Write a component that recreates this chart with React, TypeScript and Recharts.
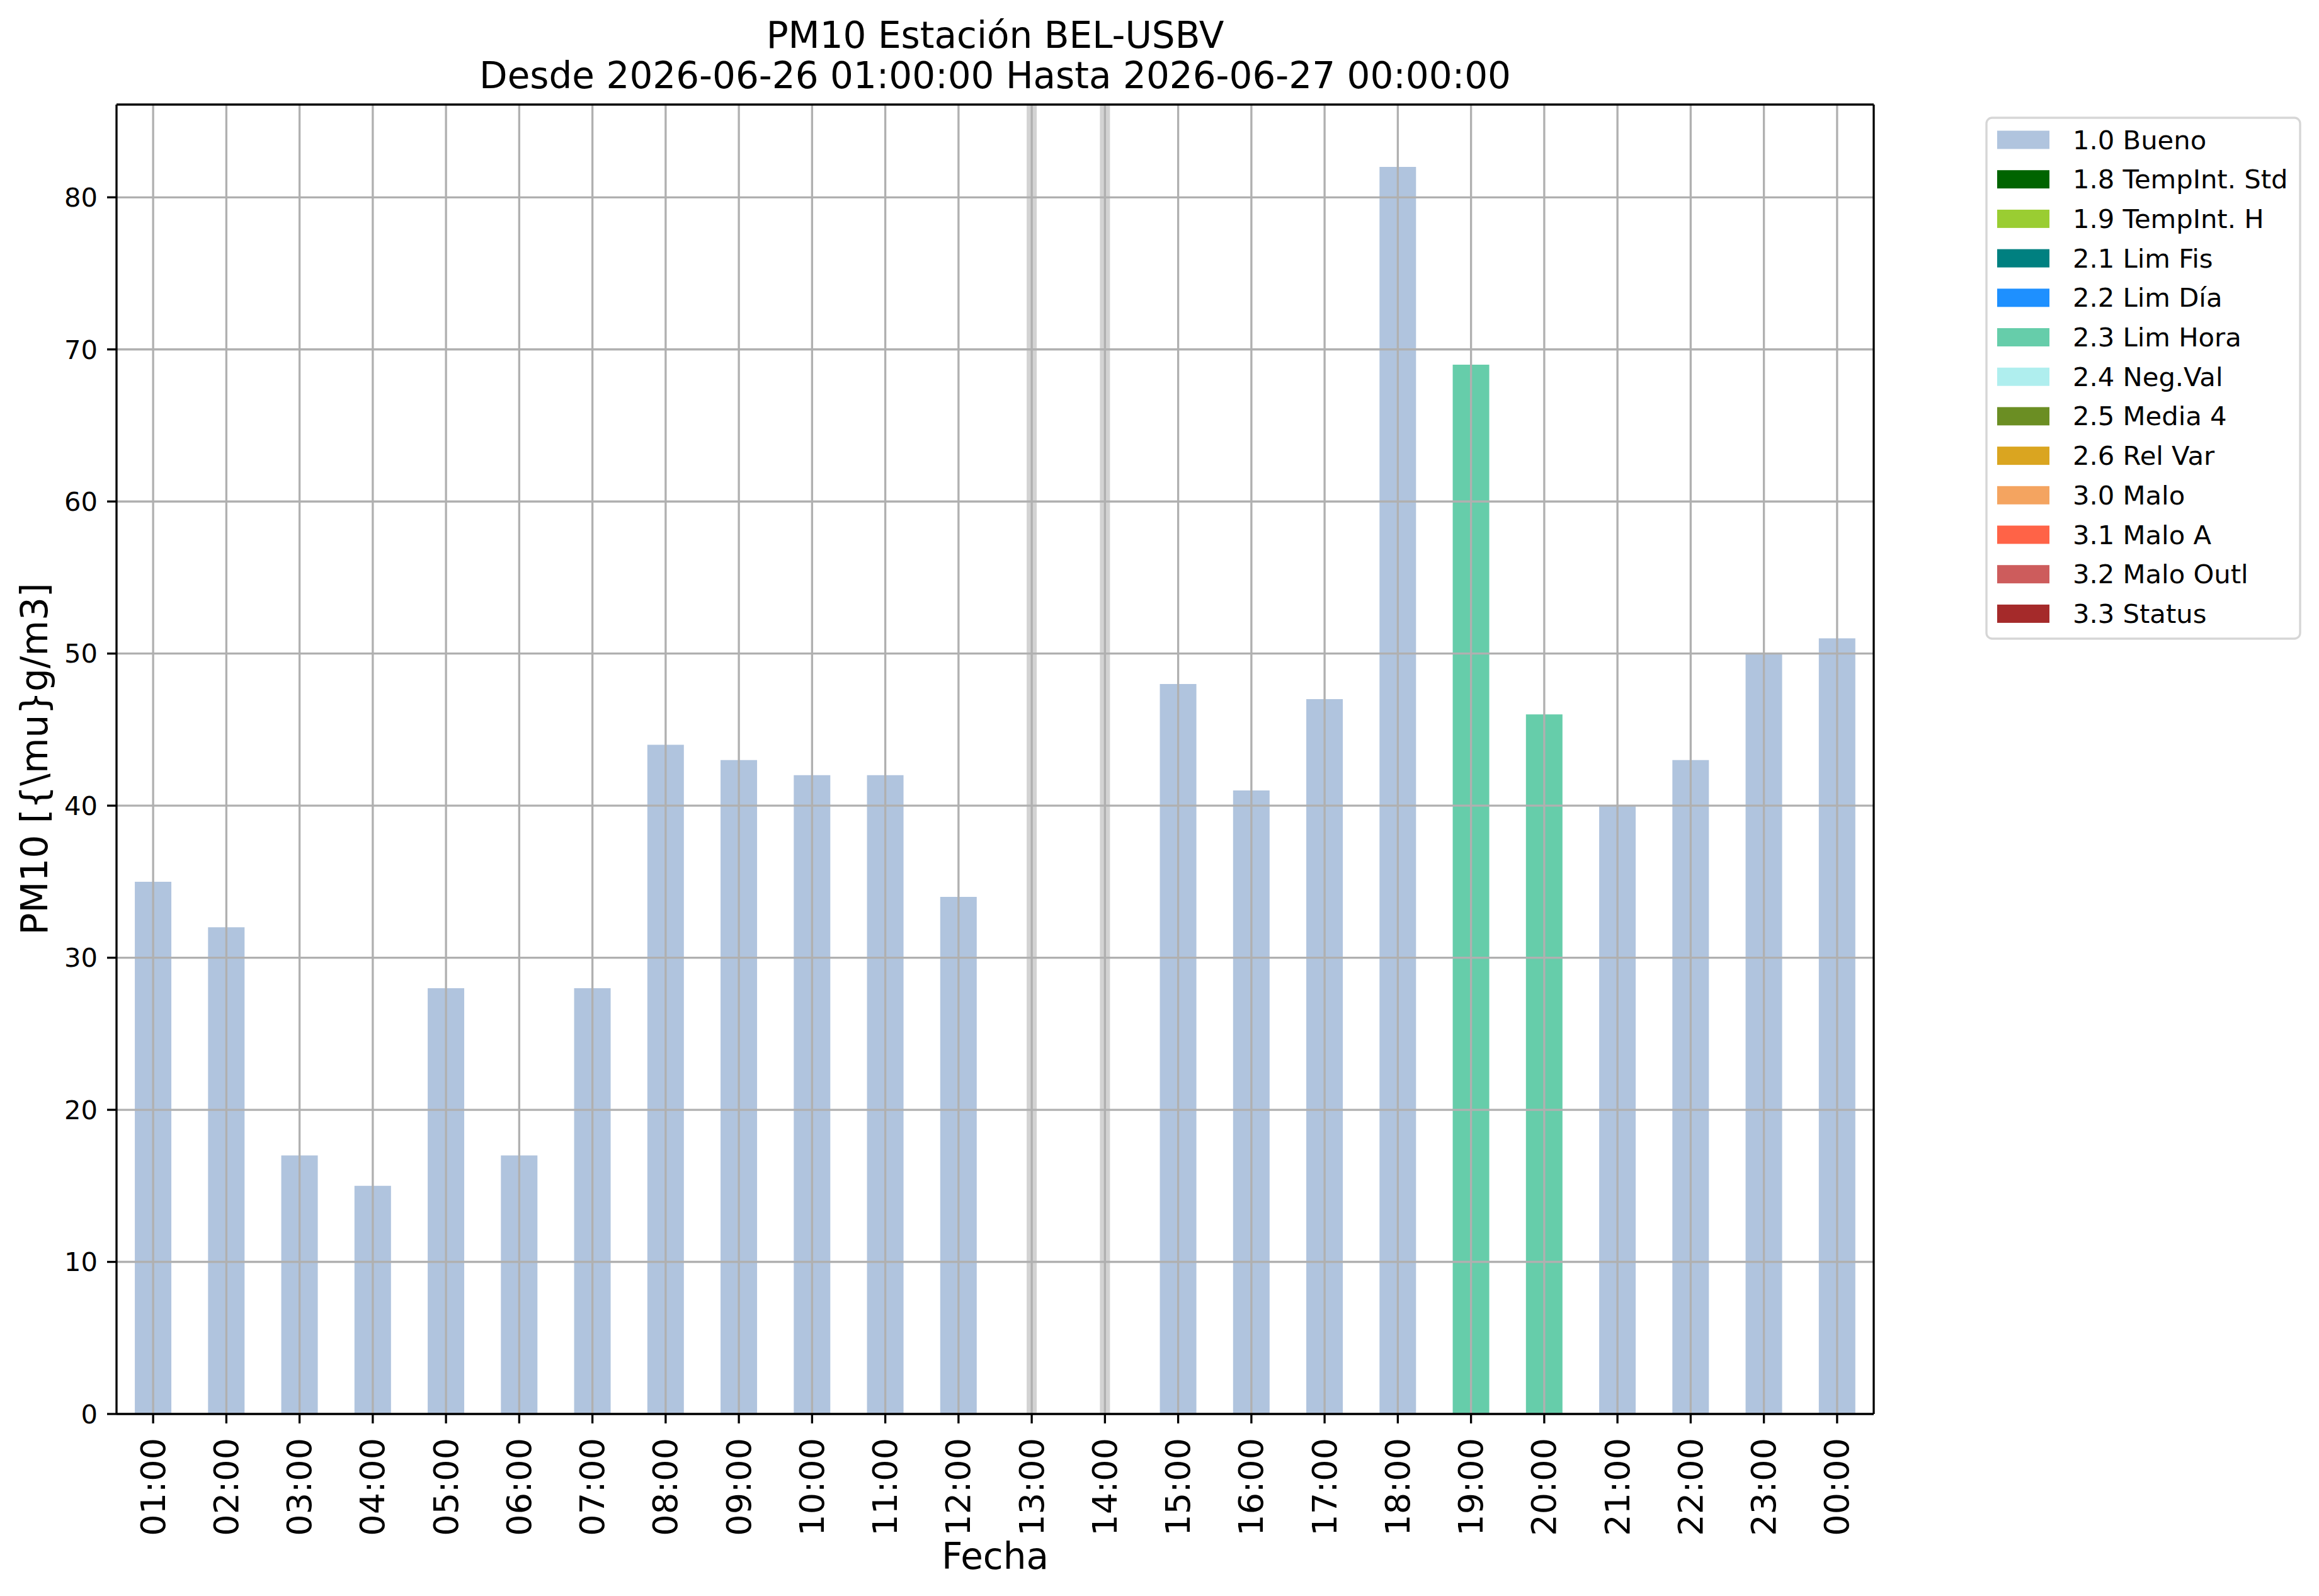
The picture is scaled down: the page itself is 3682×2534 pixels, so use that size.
import React from "react"
import { BarChart, Bar, XAxis, YAxis, ReferenceLine } from "recharts"

const hours = [
  "01:00", "02:00", "03:00", "04:00", "05:00", "06:00", "07:00", "08:00",
  "09:00", "10:00", "11:00", "12:00", "13:00", "14:00", "15:00", "16:00",
  "17:00", "18:00", "19:00", "20:00", "21:00", "22:00", "23:00", "00:00",
]

// 1.0 Bueno
const bueno = [
  35, 32, 17, 15, 28, 17, 28, 44, 43, 42, 42, 34,
  null, null, 48, 41, 47, 82, null, null, 40, 43, 50, 51,
]

// 2.3 Lim Hora
const limHora = [
  null, null, null, null, null, null, null, null, null, null, null, null,
  null, null, null, null, null, null, 69, 46, null, null, null, null,
]

const yTicks = [0, 10, 20, 30, 40, 50, 60, 70, 80]

const legendLabels = [
  "1.0 Bueno", "1.8 TempInt. Std", "1.9 TempInt. H", "2.1 Lim Fis",
  "2.2 Lim Día", "2.3 Lim Hora", "2.4 Neg.Val", "2.5 Media 4",
  "2.6 Rel Var", "3.0 Malo", "3.1 Malo A", "3.2 Malo Outl", "3.3 Status",
]

const legendColors = [
  "#B0C4DE", "#006400", "#9ACD32", "#008080",
  "#1E90FF", "#66CDAA", "#AFEEEE", "#6B8E23",
  "#DAA520", "#F4A460", "#FF6347", "#CD5C5C", "#A52A2A",
]

const FONT = "'DejaVu Sans', sans-serif"
const W = 3682
const H = 2534
const LW = 3.33

const data = hours.map((hour, i) => ({
  hour,
  bueno: bueno[i],
  limHora: limHora[i],
}))

// hours with no value at all get the wide grey marker line
const missing = data.filter((d) => d.bueno == null && d.limHora == null).map((d) => d.hour)

function HourTick({ x, y, payload }: { x?: number; y?: number; payload?: { value: string } }) {
  return (
    <text
      x={x}
      y={y}
      transform={`rotate(-90 ${x} ${y})`}
      textAnchor="end"
      dominantBaseline="central"
      fontSize={54}
      fontFamily={FONT}
      fill="#000"
    >
      {payload?.value}
    </text>
  )
}

function Overlay() {
  const rowY = (i: number) => 222 + i * 62.7
  return (
    <svg
      width={W}
      height={H}
      style={{ position: "absolute", left: 0, top: 0, pointerEvents: "none" }}
    >
      <g fontFamily={FONT} fill="#000">
        <text x={1580} y={76} textAnchor="middle" fontSize={58}>
          PM10 Estación BEL-USBV
        </text>
        <text x={1580} y={140} textAnchor="middle" fontSize={58}>
          Desde 2026-06-26 01:00:00 Hasta 2026-06-27 00:00:00
        </text>
        <text x={1580} y={2491} textAnchor="middle" fontSize={58}>
          Fecha
        </text>
        <text
          x={55}
          y={1205}
          transform="rotate(-90 55 1205)"
          textAnchor="middle"
          dominantBaseline="central"
          fontSize={58}
        >
          {"PM10 [{\\mu}g/m3]"}
        </text>
      </g>

      {/* legend */}
      <rect
        x={3154}
        y={187}
        width={498}
        height={827}
        rx={9}
        fill="#fff"
        stroke="#d6d6d6"
        strokeWidth={LW}
      />
      {legendLabels.map((label, i) => (
        <g key={label}>
          <rect x={3171} y={rowY(i) - 14.5} width={83} height={29} fill={legendColors[i]} />
          <text
            x={3291}
            y={rowY(i) + 14.5}
            fontSize={41.7}
            fontFamily={FONT}
            fill="#000"
          >
            {label}
          </text>
        </g>
      ))}
    </svg>
  )
}

export default function App() {
  const axisStyle = { stroke: "#000", strokeWidth: LW }
  return (
    <div style={{ position: "absolute", left: 0, top: 0, width: W, height: H, background: "#fff" }}>
      <BarChart
        width={W}
        height={H}
        data={data}
        margin={{ top: 165, right: 706, bottom: 0, left: 0 }}
        barCategoryGap="25%"
      >
        <XAxis
          dataKey="hour"
          interval={0}
          height={289}
          tick={<HourTick />}
          tickSize={15}
          tickMargin={23}
          axisLine={axisStyle}
          tickLine={axisStyle}
        />
        <XAxis
          xAxisId="top"
          orientation="top"
          dataKey="hour"
          height={1}
          tick={false}
          tickLine={false}
          axisLine={axisStyle}
        />
        <YAxis
          type="number"
          domain={[0, 86.1]}
          ticks={yTicks}
          interval={0}
          width={185}
          tickSize={15}
          tickMargin={15}
          tick={{ fontSize: 41.7, fontFamily: FONT, fill: "#000" }}
          axisLine={axisStyle}
          tickLine={axisStyle}
          allowDataOverflow
        />
        <YAxis
          yAxisId="right"
          orientation="right"
          type="number"
          domain={[0, 86.1]}
          width={1}
          tick={false}
          tickLine={false}
          axisLine={axisStyle}
        />
        <Bar dataKey="bueno" stackId="q" fill={legendColors[0]} isAnimationActive={false} />
        <Bar dataKey="limHora" stackId="q" fill={legendColors[5]} isAnimationActive={false} />

        {missing.map((h) => (
          <ReferenceLine key={`m-${h}`} x={h} stroke="#d3d3d3" strokeWidth={16} />
        ))}
        {hours.map((h) => (
          <ReferenceLine key={`gx-${h}`} x={h} stroke="#b0b0b0" strokeWidth={LW} />
        ))}
        {yTicks.map((t) => (
          <ReferenceLine key={`gy-${t}`} y={t} stroke="#b0b0b0" strokeWidth={LW} />
        ))}
      </BarChart>
      <Overlay />
    </div>
  )
}
